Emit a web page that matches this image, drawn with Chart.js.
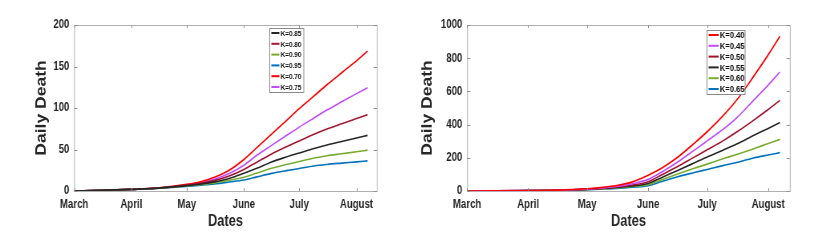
<!DOCTYPE html>
<html>
<head>
<meta charset="utf-8">
<script src="https://cdn.jsdelivr.net/npm/chart.js@4.4.0/dist/chart.umd.min.js"></script>
<style>
  body { margin: 0; background: #fff; overflow: hidden; }
  /* the source figure is squeezed horizontally, so draw wider and scale down */
  .box { position: absolute; top: 0; height: 251px; transform: scaleX(0.8); transform-origin: 0 0; }
  #leftBox { left: 0; width: 507.5px; }
  #rightBox { left: 406px; width: 508.75px; }
</style>
</head>
<body>
<div class="box" id="leftBox"><canvas id="left"></canvas></div>
<div class="box" id="rightBox"><canvas id="right"></canvas></div>
<script>
// days since 1 March
const days = [0, 15, 31, 46, 61, 69, 76, 84, 92, 99, 107, 115, 122, 130, 137, 145, 153, 159];
const monthDays = [0, 31, 61, 92, 122, 153];
const monthLabels = ["March", "April", "May", "June", "July", "August"];

// left panel
const leftLabels = ["K=0.85", "K=0.80", "K=0.90", "K=0.95", "K=0.70", "K=0.75"];
const k085 = [0, 0.8, 2, 3.5, 6.5, 8.5, 11, 15, 21.3, 27.3, 35, 41, 45.8, 51.3, 55.5, 59.6, 63.8, 67];
const k080 = [0, 0.8, 2, 3.6, 7, 9.5, 12.5, 18, 26, 34.7, 44.7, 53.2, 60.3, 68.4, 74.6, 81, 87.3, 92];
const k090 = [0, 0.8, 2, 3.4, 6, 7.8, 9.8, 13, 16.5, 21.6, 27.4, 31.9, 35.5, 39.7, 42.5, 44.9, 47.3, 49.2];
const k095 = [0, 0.8, 2, 3.3, 5.5, 7, 8.5, 10.8, 13.3, 17, 21.2, 24.5, 27.1, 30.2, 32, 33.6, 35.1, 36.3];
const k070 = [0, 0.8, 2, 3.8, 8, 11.5, 16.5, 25, 38, 52.2, 68.5, 84.8, 99.2, 114.5, 128, 142.5, 156.7, 168.5];
const k075 = [0, 0.8, 2, 3.7, 7.5, 10.5, 14, 21, 31, 43, 55, 66.8, 77, 88, 97.5, 107.5, 117.3, 124.5];
const leftTicks = [0, 50, 100, 150, 200];

// right panel
const rightLabels = ["K=0.40", "K=0.45", "K=0.50", "K=0.55", "K=0.60", "K=0.65"];
const k040 = [0, 0.5, 2, 5, 14, 22, 33, 55, 95, 139, 203, 283, 357, 452, 548, 680, 820, 932];
const k045 = [0, 0.5, 2, 4.5, 12, 19, 27, 44, 70, 115, 175, 242, 302, 371, 441, 539, 638, 717];
const k050 = [0, 0.5, 2, 4.3, 11, 17, 24, 36, 56, 98, 147, 201, 248, 302, 355, 421, 491, 546];
const k055 = [0, 0.5, 2, 4, 10, 15, 21, 31, 45, 82, 124, 167, 205, 246, 283, 331, 377, 412];
const k060 = [0, 0.5, 2, 3.8, 9, 13, 18, 27, 38, 68, 102, 135, 162, 194, 220, 252, 286, 311];
const k065 = [0, 0.5, 2, 3.5, 8, 12, 16, 23, 32, 57, 86, 110, 130, 153, 172, 197, 217, 231];
const rightTicks = [0, 200, 400, 600, 800, 1000];

const BLACK = "#262626", DARKRED = "#a2142f", GREEN = "#77ac30",
      BLUE = "#0072bd", RED = "#ff0000", PURPLE = "#bf4dff";

const fontFam = "'Liberation Sans', Arial, Helvetica, sans-serif";

function series(label, vals, color) {
  return {
    label: label,
    data: days.map((d, i) => ({ x: d, y: vals[i] })),
    borderColor: color,
    backgroundColor: color,
    borderWidth: 1.6,
    pointRadius: 0,
    cubicInterpolationMode: "monotone",
  };
}

// matlab style box with inward ticks and a framed legend
const boxPlugin = {
  id: "matBox",
  afterDraw(chart, args, opts) {
    const ctx = chart.ctx;
    const a = chart.chartArea;
    const xs = chart.scales.x, ys = chart.scales.y;
    ctx.save();
    ctx.strokeStyle = "#b0b0b0";
    ctx.lineWidth = 1;
    ctx.strokeRect(a.left + 0.5, a.top + 0.5, a.right - a.left, a.bottom - a.top);
    ctx.strokeStyle = "#909090";
    ctx.beginPath();
    monthDays.forEach((d) => {
      const px = Math.round(xs.getPixelForValue(d)) + 0.5;
      ctx.moveTo(px, a.bottom); ctx.lineTo(px, a.bottom - 3);
      ctx.moveTo(px, a.top); ctx.lineTo(px, a.top + 3);
    });
    ys.ticks.forEach((t) => {
      const py = Math.round(ys.getPixelForValue(t.value)) + 0.5;
      ctx.moveTo(a.left, py); ctx.lineTo(a.left + 4, py);
      ctx.moveTo(a.right, py); ctx.lineTo(a.right - 4, py);
    });
    ctx.stroke();

    // legend
    const L = opts;
    ctx.fillStyle = "#fff";
    ctx.fillRect(L.x, L.y, L.w, L.h);
    ctx.strokeStyle = "#8a8a8a";
    ctx.strokeRect(L.x + 0.5, L.y + 0.5, L.w, L.h);
    ctx.font = "bold " + L.size + "px " + fontFam;
    ctx.textBaseline = "middle";
    chart.data.datasets.forEach((ds, i) => {
      const y = L.y + L.first + i * L.row;
      ctx.strokeStyle = ds.borderColor;
      ctx.lineWidth = 2;
      ctx.beginPath();
      ctx.moveTo(L.x + 2.5, y); ctx.lineTo(L.x + 2.5 + L.line, y);
      ctx.stroke();
      ctx.fillStyle = "#111";
      ctx.fillText(ds.label, L.x + 4 + L.line, y + 0.5);
    });
    ctx.restore();
  },
};

function makeChart(id, datasets, yTicks, yWidth, pad, titlePad, legend) {
  return new Chart(document.getElementById(id), {
    type: "line",
    data: { datasets: datasets },
    plugins: [boxPlugin],
    options: {
      responsive: true,
      maintainAspectRatio: false,
      animation: false,
      layout: { padding: { left: 0, right: pad, top: 25, bottom: 0 } },
      plugins: {
        legend: { display: false },
        tooltip: { enabled: false },
        matBox: legend,
      },
      scales: {
        x: {
          type: "linear",
          min: 0,
          max: 164,
          grid: { display: false, drawTicks: false },
          border: { display: false },
          afterBuildTicks: (s) => { s.ticks = monthDays.map((v) => ({ value: v })); },
          afterFit: (s) => { s.height = 60; },
          ticks: {
            autoSkip: false,
            maxRotation: 0,
            padding: 6,
            color: "#262626",
            font: { family: fontFam, size: 12, weight: "bold" },
            callback: (v) => monthLabels[monthDays.indexOf(v)],
          },
          title: {
            display: true,
            text: "Dates",
            color: "#262626",
            padding: { top: 0, bottom: 20 },
            font: { family: fontFam, size: 16, weight: "bold" },
          },
        },
        y: {
          min: yTicks[0],
          max: yTicks[yTicks.length - 1],
          grid: { display: false, drawTicks: false },
          border: { display: false },
          afterBuildTicks: (s) => { s.ticks = yTicks.map((v) => ({ value: v })); },
          afterFit: (s) => { s.width = yWidth; },
          ticks: {
            padding: 6,
            color: "#262626",
            font: { family: fontFam, size: 12, weight: "bold" },
            callback: (v) => String(v),
          },
          title: {
            display: true,
            text: "Daily Death",
            color: "#262626",
            padding: { top: titlePad, bottom: 0 },
            font: { family: fontFam, size: 17.5, weight: "bold" },
          },
        },
      },
    },
  });
}

makeChart("left", [
  series(leftLabels[0], k085, BLACK),
  series(leftLabels[1], k080, DARKRED),
  series(leftLabels[2], k090, GREEN),
  series(leftLabels[3], k095, BLUE),
  series(leftLabels[4], k070, RED),
  series(leftLabels[5], k075, PURPLE),
], leftTicks, 92.5, 37.5, 42,
  { x: 336, y: 28, w: 42.5, h: 64, first: 5, row: 10.8, line: 10, size: 8 });

makeChart("right", [
  series(rightLabels[0], k040, RED),
  series(rightLabels[1], k045, PURPLE),
  series(rightLabels[2], k050, DARKRED),
  series(rightLabels[3], k055, BLACK),
  series(rightLabels[4], k060, GREEN),
  series(rightLabels[5], k065, BLUE),
], rightTicks, 76.25, 30, 17,
  { x: 375, y: 30, w: 47.5, h: 64, first: 5, row: 10.8, line: 12.5, size: 9.5 });
</script>
</body>
</html>
